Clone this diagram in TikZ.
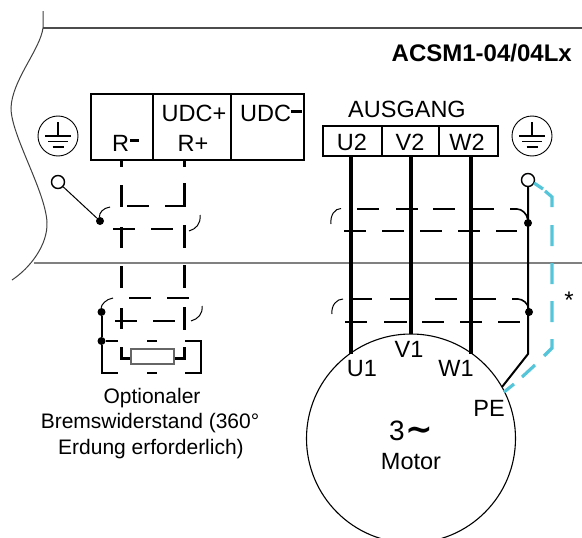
\documentclass[tikz,border=0pt]{standalone}
\usepackage{fontspec}
\setmainfont{Liberation Sans}
\newfontfamily\djv{DejaVu Sans}
\definecolor{cy}{HTML}{55C5DA}
\tikzset{
 lbl/.style={inner sep=0pt,anchor=base,font=\fontsize{23.5}{23.5}\selectfont},
 lbs/.style={inner sep=0pt,anchor=base,font=\fontsize{21}{21}\selectfont},
 hollow/.style={circle,draw=black,fill=white,line width=1.4pt,minimum size=13pt,inner sep=0pt},
 dot/.style={circle,fill=black,minimum size=8pt,inner sep=0pt},
 earth/.style={circle,draw=black,line width=0.9pt,minimum size=40pt,inner sep=0pt},
 frameline/.style={line width=1.4pt,draw=black!70},
 grayline/.style={line width=1.8pt,draw=black!50},
 term/.style={line width=2pt},
 shield/.style={line width=1.6pt},
 cond/.style={line width=3pt},
 phase/.style={line width=4.2pt},
 pel/.style={line width=2pt},
 cyl/.style={line width=3.2pt,draw=cy},
 thin curve/.style={line width=1pt}
}
\newcommand{\earthsym}[1]{%
 \draw[line width=1.2pt] (#1)+(0,-14)--+(0,0) (#1)+(-13,0)--+(13,0) (#1)+(-10,5.5)--+(10,5.5) (#1)+(-5.5,11)--+(5.5,11);}
\begin{document}
\begin{tikzpicture}[x=1pt,y=-1pt]
\useasboundingbox (0,0) rectangle (582,538);
\clip (0,0) rectangle (582,538);
% frame
\draw[frameline] (43,28)--(582,28);
\draw[grayline] (34,263)--(582,263);
\draw[line width=1pt,black!75] (43,11)--(43,28) .. controls (40,50) and (12,80) .. (11,108)
 .. controls (11,135) and (45,190) .. (47,222) .. controls (48,245) and (30,268) .. (12,280);
% DC terminal
\draw[term] (91,94) rectangle (304,160) (153,94)--(153,160) (231,94)--(231,160);
\node[lbl] (udcp) at (194,121) {UDC+};
\node[lbl] (rp) at (193,151) {R+};
\node[lbl,anchor=base west] (rm) at (112,151) {R};
\fill (130,139) rectangle (139,142);
\node[lbl,anchor=base west] (udcm) at (240,121) {UDC};
\fill (291,110) rectangle (302,113);
% output terminal
\node[lbl] (aus) at (407,117) {AUSGANG};
\draw[term] (323,126) rectangle (498,156) (382,126)--(382,156) (439,126)--(439,156);
\node[lbl] (u2) at (352,150) {U2};
\node[lbl] (v2) at (410,150) {V2};
\node[lbl] (w2) at (467,150) {W2};
\node[inner sep=0pt,anchor=base east,font=\fontsize{24}{24}\selectfont\bfseries] (title) at (572,61) {ACSM1-04/04Lx};
% earth
\node[earth] (e1) at (58,136) {}; \coordinate (e1c) at (58,136); \earthsym{e1c}
\node[earth] (e2) at (532,136) {}; \coordinate (e2c) at (532,136); \earthsym{e2c}
% left shield
\node[hollow] (lo) at (58,182) {};
\node[dot] (ld) at (100,221) {};
\node[dot] (bd1) at (101.5,312) {};
\node[dot] (bd2) at (101.5,341) {};
\draw[line width=1pt] (lo)--(ld);
\draw[thin curve] (ld) .. controls (99,213) and (103,208) .. (110,207);
\draw[thin curve] (189,231) .. controls (196,229) and (201,224) .. (200,215);
\draw[thin curve] (bd1) .. controls (101,305) and (106,299) .. (113,298);
\draw[thin curve] (191,321) .. controls (198,319) and (203,314) .. (202,306);
\foreach \x/\a/\b in {121/161/167,121/185/207,121/227/248,121/266/288,121/308/329,184/161/167,184/183/207,184/225/248,184/265/288,184/307/330}
 \draw[cond] (\x,\a)--(\x,\b);
\foreach \y/\a/\b in {206/127/149,206/165/185.5,229/113/135,229/151/173,298/129/151,298/167/189,321/115/137,321/153/175}
 \draw[shield] (\a,\y)--(\b,\y);
% brake resistor
\node[draw=black!60,line width=1.1pt,fill=white,minimum width=43pt,minimum height=15pt,inner sep=0pt] (res) at (152.5,356.5) {};
\draw[cond] (121,347)--(121,358)--(res.west |- 121,358);
\draw[cond] (184,347)--(184,358)--(res.east |- 184,358);
\draw[term] (bd1)--(bd2)--(101.5,373)--(118,373) (147,373)--(157,373) (185,373)--(201,373)--(201,341)--(185,341) (157,341)--(147,341) (118,341)--(bd2);
\node[lbs] (t1) at (152,403) {Optionaler};
\node[lbs] (t2) at (150,428) {Bremswiderstand (360°};
\node[lbs] (t3) at (151,454) {Erdung erforderlich)};
% motor
\node[circle,draw=black,line width=1.1pt,minimum size=209pt,inner sep=0pt] (motor) at (411,438.5) {};
\draw[phase] (351,156)--(351,353.5);
\draw[phase] (411,156)--(411,334);
\draw[phase] (471,156)--(471,354);
\node[lbl] (u1) at (362,376) {U1};
\node[lbl] (v1) at (409,357) {V1};
\node[lbl] (w1) at (456,376) {W1};
\node[lbl] (pe) at (489,416) {PE};
\node[inner sep=0pt,anchor=base west,font=\fontsize{28}{28}\selectfont] (three) at (389,440) {3};
\node[inner sep=0pt,anchor=base west,font=\fontsize{33}{33}\selectfont\bfseries\djv] (tilde) at (405,440) {∼};
\node[lbl] (mot) at (411,469) {Motor};
% PE
\node[hollow] (po) at (528,180) {};
\node[dot] (pd1) at (528,223) {};
\node[dot] (pd2) at (529,312) {};
\coordinate (pk) at (528,354);
\coordinate (pm) at (502,387);
\draw[pel] (po)--(pk)--(pm);
\foreach \y/\a/\b in {209/357/379,209/396/418,209/433/455,209/473/494,231/344/366,231/382/404,231/420/442,231/458/480,231/496/517,299/350/372,299/390/412,299/435/457,299/473/496,322/345/367,322/384/407,322/422/444,322/460/482,322/498/520}
 \draw[shield] (\a,\y)--(\b,\y);
\draw[shield] (510,209)--(517,209) .. controls (522,209) and (527,214) .. (pd1);
\draw[shield] (512,299)--(518,299) .. controls (523,299) and (528,304) .. (pd2);
\draw[thin curve] (341,208.5) .. controls (335,208.5) and (330,215) .. (331,224);
\draw[thin curve] (343,299) .. controls (337,299) and (331,305) .. (332,314);
% cyan
\draw[cyl] (534,183)--(543,189) (545,191)--(552,197)--(552,207) (552,225)--(552,246) (552,263)--(552,284) (552,301)--(552,322) (552,339)--(552,348)--(544,356) (535,365)--(522,377) (514,384)--(504,392);
\node[inner sep=0pt,anchor=base,font=\fontsize{24}{24}\selectfont] (star) at (569,308) {*};
\end{tikzpicture}
\end{document}
